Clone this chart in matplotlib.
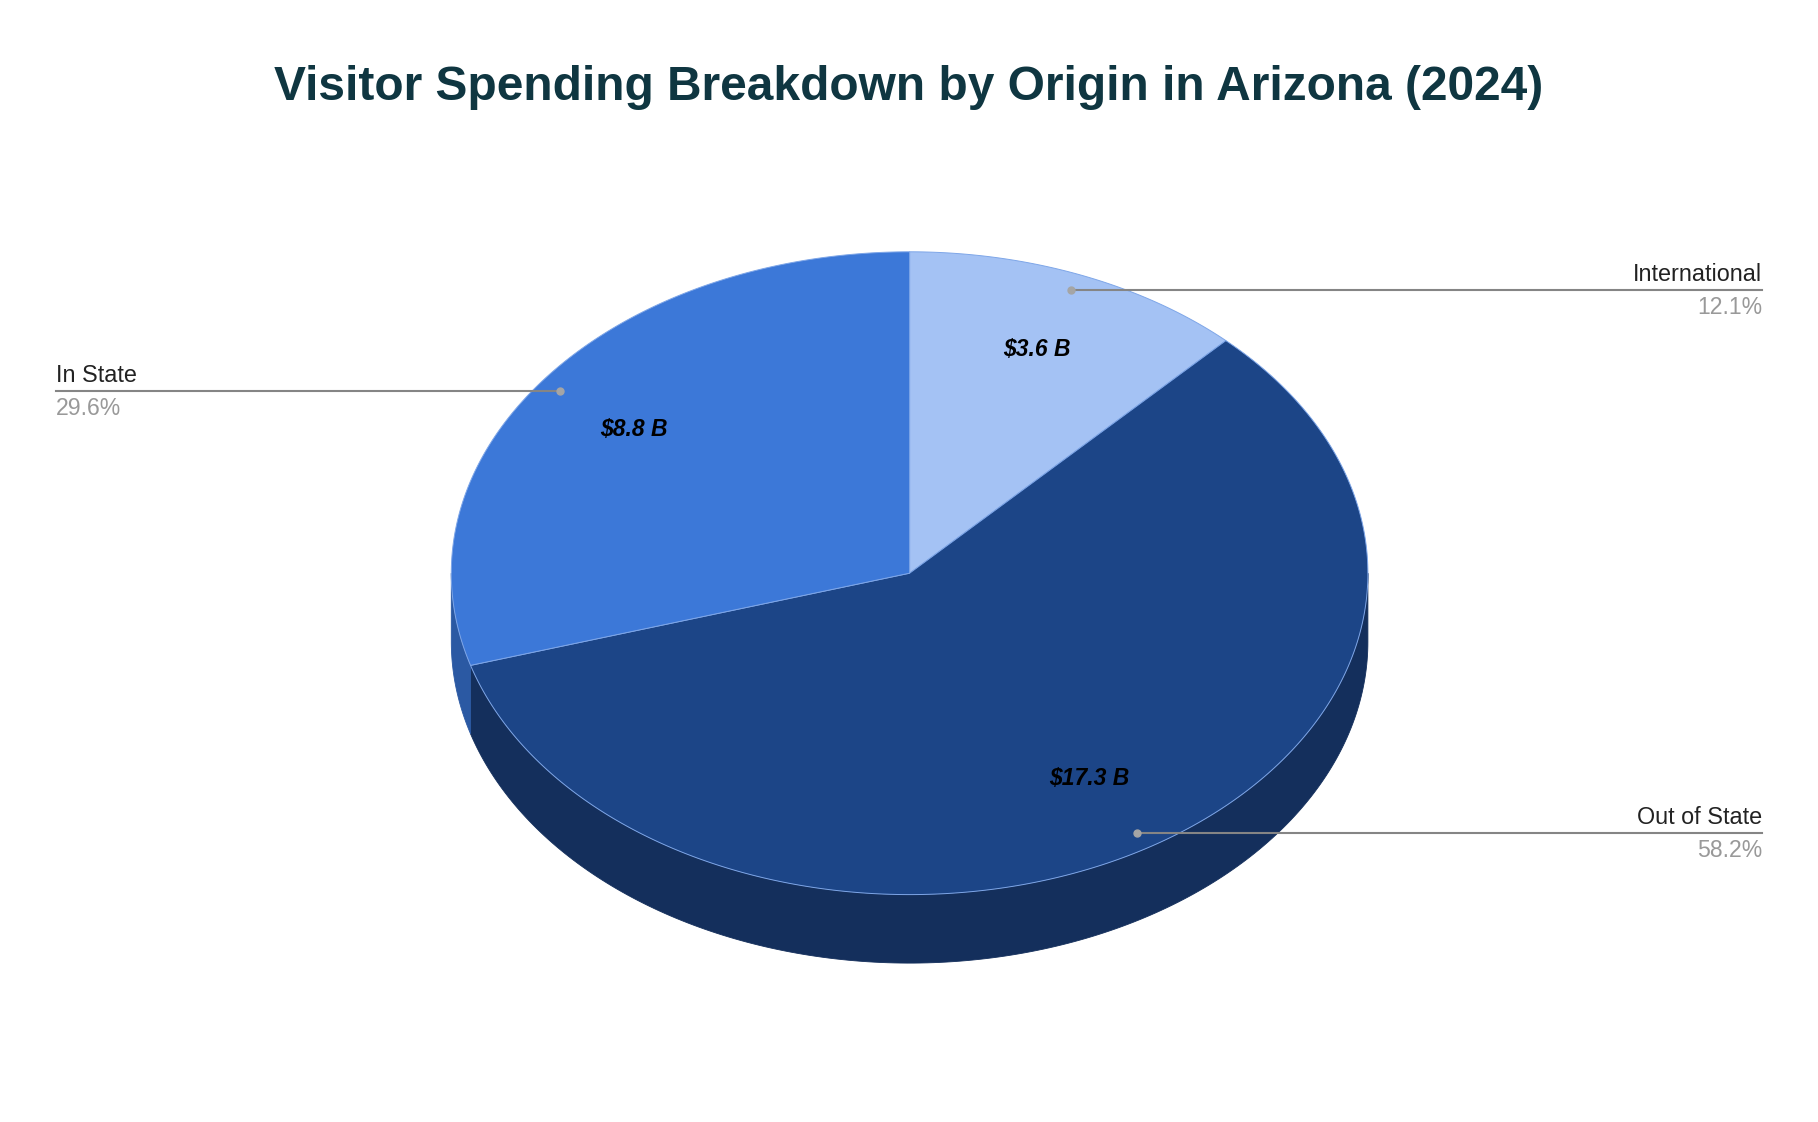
import numpy as np
import matplotlib.pyplot as plt

# Data
categories = ["International", "Out of State", "In State"]
spending = [3.6, 17.3, 8.8]          # $ billions
value_labels = ["$3.6 B", "$17.3 B", "$8.8 B"]
pct_labels = ["12.1%", "58.2%", "29.6%"]

top_colors = ["#a4c2f4", "#1c4587", "#3c78d8"]
side_colors = ["#7f9bc9", "#142f5c", "#2b59a3"]

plt.rcParams['font.family'] = ['Liberation Sans', 'DejaVu Sans']

W, H = 1818, 1122
fig = plt.figure(figsize=(W / 100, H / 100), dpi=100)
ax = fig.add_axes([0, 0, 1, 1])
ax.set_xlim(0, W)
ax.set_ylim(H, 0)
ax.axis('off')

# pie geometry (pixels)
cx, cy = 909.6, 573.2
rx, ry = 458.3, 321.4
depth = 68.5


def pt(t, r=1.0, dz=0.0):
    return cx + r * rx * np.cos(t), cy - r * ry * np.sin(t) + dz


# slice angles: start at top, clockwise
vals = np.array(spending)
fracs = vals / vals.sum()
starts = np.deg2rad(90 - 360 * np.concatenate([[0], np.cumsum(fracs)[:-1]]))
ends = np.deg2rad(90 - 360 * np.cumsum(fracs))

# sides (front half only: angle in [-pi, 0])
for s, e, col in zip(starts, ends, side_colors):
    for shift in (0, -2 * np.pi, 2 * np.pi):
        a0, a1 = max(e + shift, -np.pi), min(s + shift, 0)
        if a1 > a0:
            t = np.linspace(a0, a1, 200)
            xs, ys = pt(t)
            xb, yb = pt(t[::-1], dz=depth)
            ax.fill(np.concatenate([xs, xb]), np.concatenate([ys, yb]),
                    color=col, lw=0.6, ec=col, zorder=1)

# top faces
for s, e, col in zip(starts, ends, top_colors):
    t = np.linspace(s, e, 300)
    xs, ys = pt(t)
    ax.fill(np.concatenate([[cx], xs]), np.concatenate([[cy], ys]),
            fc=col, ec="#7ea6e8", lw=0.7, zorder=2)

# labels
for i, (s, e) in enumerate(zip(starts, ends)):
    mid = (s + e) / 2
    x, y = pt(mid, 0.75)
    ax.text(x, y, value_labels[i], ha='center', va='center', fontsize=16.5,
            fontweight='bold', fontstyle='italic', color='black', zorder=4)

    dx, dy = pt(mid, 0.95)
    right = np.cos(mid) > 0
    x_end = 1762 if right else 56
    ha = 'right' if right else 'left'
    ax.plot([dx, x_end], [dy, dy], color='#858585', lw=1.5, zorder=3)
    ax.plot(dx, dy, 'o', color='#a5a5a5', ms=5, zorder=3)
    ax.text(x_end, dy - 9, categories[i], ha=ha, va='baseline',
            fontsize=16.8, color='#222222', zorder=4)
    ax.text(x_end, dy + 24, pct_labels[i], ha=ha, va='baseline',
            fontsize=16.6, color='#999999', zorder=4)

ax.text(909, 100, "Visitor Spending Breakdown by Origin in Arizona (2024)",
        ha='center', va='baseline', fontsize=34.5, fontweight='bold',
        color='#0f3641')

fig.savefig("out.png", dpi=100)
